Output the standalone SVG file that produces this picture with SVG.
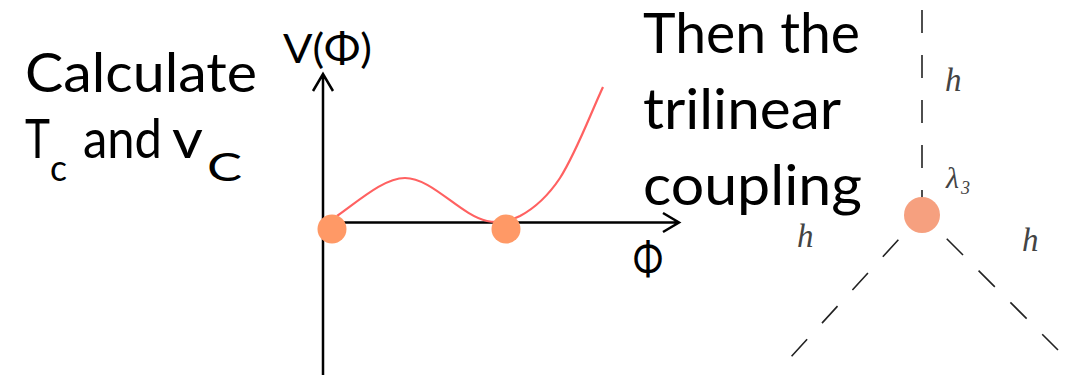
<svg xmlns="http://www.w3.org/2000/svg" width="1071" height="375" viewBox="0 0 1071 375">
<style>
.big{font-family:"Lato","Open Sans","Liberation Sans",sans-serif;fill:#000;}
.math{font-family:"Liberation Serif","DejaVu Serif",serif;font-style:italic;fill:#444;}
.axis{stroke:#000;stroke-width:2.5;fill:none;}
.dash{stroke:#222;stroke-width:1.6;fill:none;stroke-dasharray:23 22;}
</style>
<rect width="1071" height="375" fill="#fff"/>
<g id="text-left">
<text class="big" x="25" y="92" font-size="55" textLength="232" lengthAdjust="spacingAndGlyphs">Calculate</text>
<text class="big" x="25" y="158" font-size="55" textLength="25" lengthAdjust="spacingAndGlyphs">T</text>
<text class="big" x="50" y="181" font-size="36" textLength="17" lengthAdjust="spacingAndGlyphs">c</text>
<text class="big" x="83" y="158" font-size="55" textLength="79" lengthAdjust="spacingAndGlyphs">and</text>
<text class="big" x="172" y="158" font-size="55" textLength="31" lengthAdjust="spacingAndGlyphs">v</text>
<text class="big" x="207" y="181" font-size="39" textLength="35" lengthAdjust="spacingAndGlyphs">C</text>
</g>
<g id="text-right">
<text class="big" x="643" y="53" font-size="57" textLength="217" lengthAdjust="spacingAndGlyphs">Then the</text>
<text class="big" x="643" y="129" font-size="57" textLength="198" lengthAdjust="spacingAndGlyphs">trilinear</text>
<text class="big" x="643" y="205" font-size="57" textLength="219" lengthAdjust="spacingAndGlyphs">coupling</text>
</g>
<g id="plot">
<path class="axis" d="M323 375 V74 M313 91 L323 74 L333 91"/>
<path class="axis" d="M323 222.5 H679 M663 213 L679 222.5 L663 232"/>
<text class="big" x="283" y="63" font-size="41" textLength="89" lengthAdjust="spacingAndGlyphs">V(Φ)</text>
<text class="big" x="633" y="275" font-size="44" textLength="30" lengthAdjust="spacingAndGlyphs">Φ</text>
<path d="M337 216 C362 198 385 178 405 178 C432 178 460 215 487 221 C497 223 508 222 520 216 C535 208 548 196 560 178 C576 153 590 115 603 87" fill="none" stroke="#FF6161" stroke-width="2.2"/>
<circle id="dot1" cx="332" cy="229" r="14.5" fill="#FF9966"/>
<circle id="dot2" cx="506" cy="229" r="14.5" fill="#FF9966"/>
</g>
<g id="connectors">
<line class="dash" x1="922" y1="10" x2="922" y2="214"/>
<line class="dash" x1="922" y1="214" x2="790" y2="358" stroke-dashoffset="10"/>
<line class="dash" x1="922" y1="214" x2="1058" y2="350" stroke-dashoffset="10"/>
</g>
<g id="vertex">
<circle cx="922" cy="215" r="18" fill="#F6A07F"/>
</g>
<g id="labels">
<text class="math" x="945" y="91" font-size="33">h</text>
<text class="math" x="797" y="247" font-size="33">h</text>
<text class="math" x="1022" y="251" font-size="33">h</text>
<text class="math" x="946" y="188" font-size="30" font-style="normal">λ</text>
<text class="math" x="961" y="194" font-size="18" font-style="normal">3</text>
</g>
</svg>
